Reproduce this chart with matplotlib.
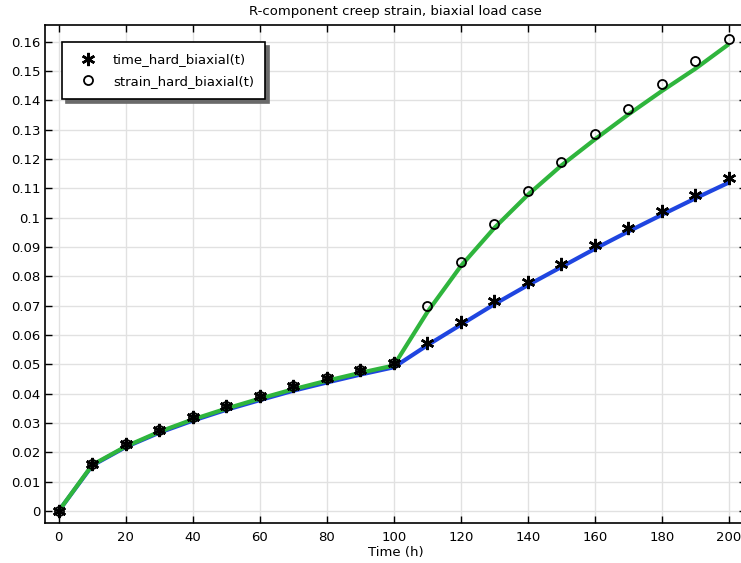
import matplotlib
matplotlib.use("Agg")
import matplotlib.pyplot as plt

# time (h)
time_h = [0, 10, 20, 30, 40, 50, 60, 70, 80, 90, 100,
          110, 120, 130, 140, 150, 160, 170, 180, 190, 200]

# computed curves (lines)
line_time_hard = [0, 0.0155, 0.0218, 0.0267, 0.0308, 0.0345, 0.0378, 0.0410, 0.0438, 0.0465, 0.0490,
                  0.0565, 0.0635, 0.0705, 0.0770, 0.0832, 0.0894, 0.0953, 0.1010, 0.1066, 0.1120]
line_strain_hard = [0, 0.0157, 0.0220, 0.0270, 0.0312, 0.0349, 0.0383, 0.0415, 0.0444, 0.0471, 0.0496,
                    0.0678, 0.0835, 0.0965, 0.1078, 0.1178, 0.1267, 0.1352, 0.1432, 0.1508, 0.1592]

# reference values (markers)
time_hard_biaxial = [0, 0.0160, 0.0228, 0.0276, 0.0320, 0.0357, 0.0391, 0.0426, 0.0453, 0.0480, 0.0504,
                     0.0574, 0.0644, 0.0716, 0.0781, 0.0843, 0.0906, 0.0964, 0.1022, 0.1079, 0.1134]
strain_hard_biaxial = [0, 0.0160, 0.0228, 0.0276, 0.0320, 0.0357, 0.0391, 0.0426, 0.0453, 0.0480, 0.0504,
                       0.0698, 0.0848, 0.0977, 0.1090, 0.1190, 0.1287, 0.1372, 0.1457, 0.1535, 0.1610]

x_ticks = [0, 20, 40, 60, 80, 100, 120, 140, 160, 180, 200]
y_ticks = [0, 0.01, 0.02, 0.03, 0.04, 0.05, 0.06, 0.07, 0.08, 0.09,
           0.1, 0.11, 0.12, 0.13, 0.14, 0.15, 0.16]
y_tick_labels = ["0", "0.01", "0.02", "0.03", "0.04", "0.05", "0.06", "0.07", "0.08", "0.09",
                 "0.1", "0.11", "0.12", "0.13", "0.14", "0.15", "0.16"]

plt.rcParams["font.family"] = "DejaVu Sans"
plt.rcParams["font.size"] = 9.5

fig = plt.figure(figsize=(7.41, 5.63), dpi=100)
# right edge of the axes runs just past the image, as in the reference
ax = fig.add_axes([45 / 741, 1 - 523 / 563, 701 / 741, 498 / 563])

ax.plot(time_h, line_time_hard, color="#1f45e0", lw=3, solid_capstyle="butt", zorder=2)
ax.plot(time_h, line_strain_hard, color="#2fb53d", lw=3, solid_capstyle="butt", zorder=3)

star = ax.plot(time_h, time_hard_biaxial, ls="none", marker=(6, 2, 0), ms=9.5,
               mec="black", mew=1.8, color="black", zorder=5, label="time_hard_biaxial(t)")[0]
circ = ax.plot(time_h, strain_hard_biaxial, ls="none", marker="o", ms=6.5,
               mfc="none", mec="black", mew=1.3, zorder=4, label="strain_hard_biaxial(t)")[0]

ax.set_xlim(-4.1, 205.1)
ax.set_ylim(-0.0041, 0.1657)
ax.set_xticks(x_ticks)
ax.set_yticks(y_ticks)
ax.set_yticklabels(y_tick_labels)
ax.grid(True, color="#e1e1e1", lw=1)
ax.set_axisbelow(True)
ax.tick_params(direction="in", length=5, width=1, top=True, right=True, colors="black")
ax.tick_params(axis="x", pad=6)
for s in ax.spines.values():
    s.set_linewidth(1.2)

ax.set_xlabel("Time (h)", labelpad=1)
ax.set_title("R-component creep strain, biaxial load case", fontsize=9.5, pad=7)

leg = ax.legend(handles=[star, circ], loc="upper left", bbox_to_anchor=(0.0243, 0.966),
                borderaxespad=0, frameon=True, fancybox=False, framealpha=1,
                edgecolor="black", handletextpad=0.8, handlelength=2.2,
                borderpad=0.85, labelspacing=0.65,
                shadow={"color": "#6a6a6a", "alpha": 1, "ox": 3, "oy": -3})
leg.get_frame().set_linewidth(1.2)

fig.savefig("out.png", dpi=100)
